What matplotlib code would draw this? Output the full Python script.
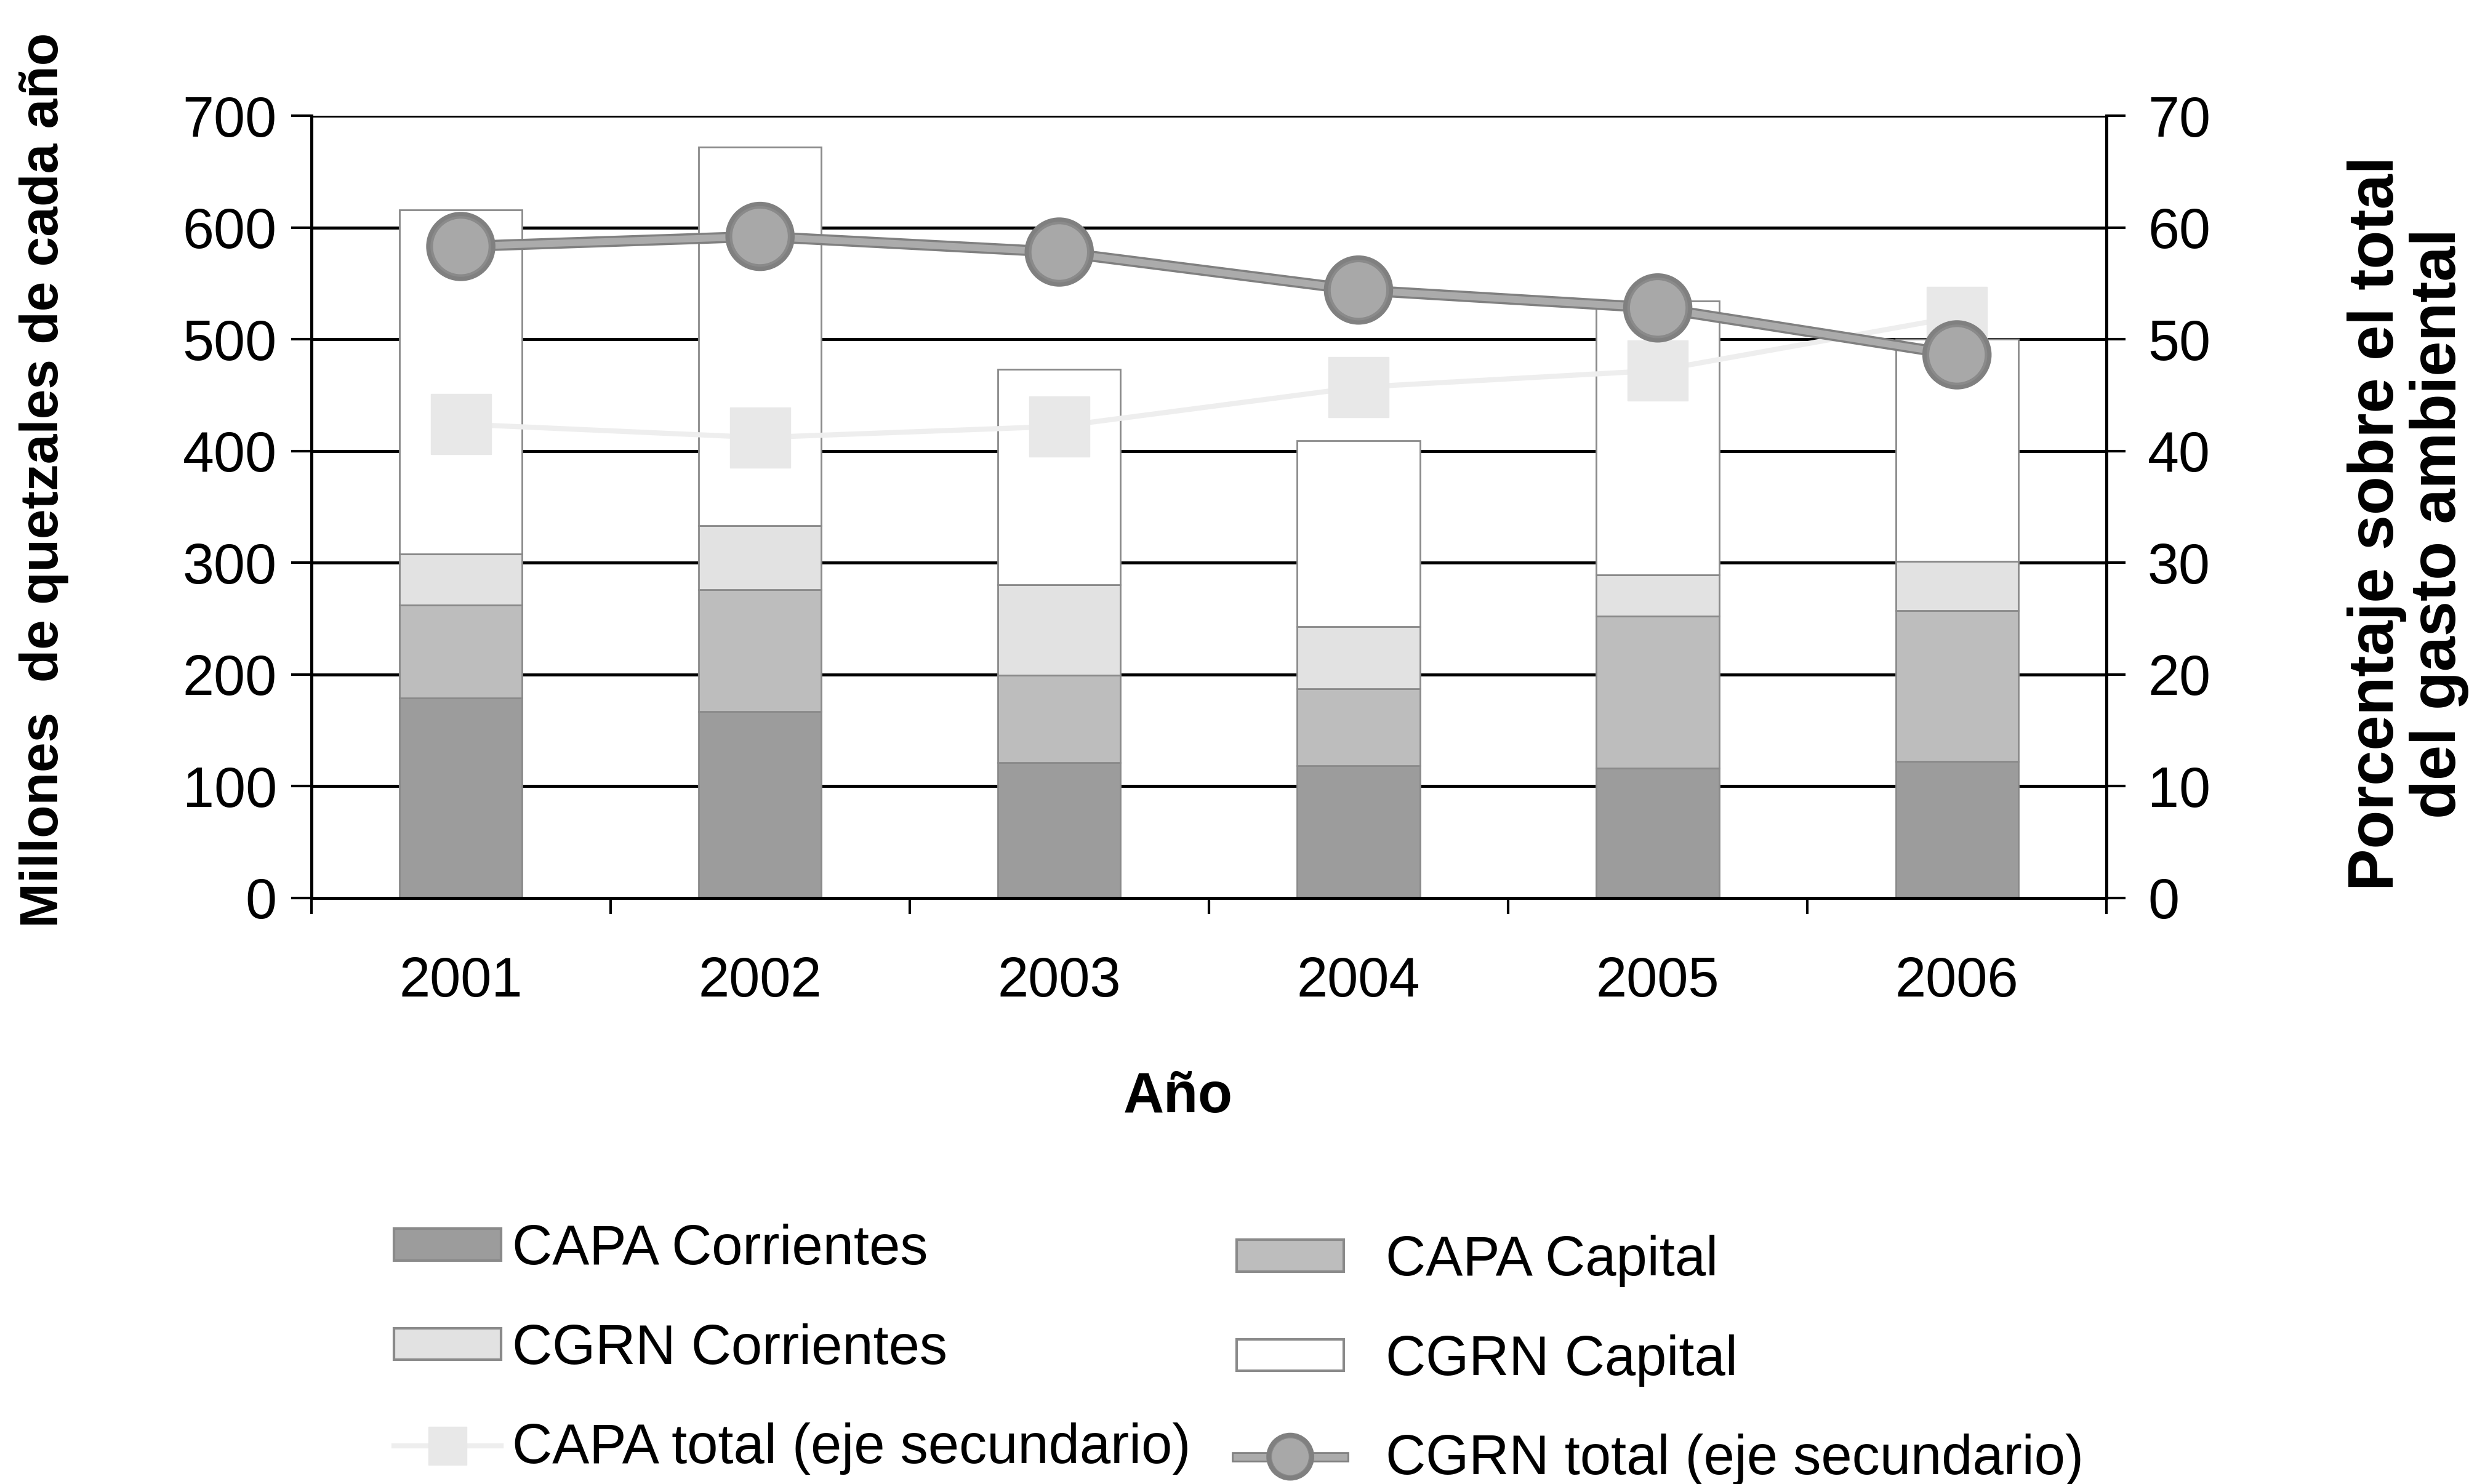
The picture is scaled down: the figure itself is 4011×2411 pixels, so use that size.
import matplotlib
matplotlib.use("Agg")
from matplotlib import pyplot as plt
from matplotlib.patches import Patch
from matplotlib.lines import Line2D
import matplotlib.patheffects as pe
import numpy as np

plt.rcParams['font.family'] = ['Liberation Sans', 'DejaVu Sans']

# datos (millones de quetzales)
anios = ["2001", "2002", "2003", "2004", "2005", "2006"]
capa_corrientes = [179, 167, 121, 118, 116, 122]
capa_capital = [83, 109, 78, 69, 136, 135]
cgrn_corrientes = [46, 57, 81, 56, 37, 44]
cgrn_capital = [308, 339, 193, 166, 245, 199]
# porcentajes (eje secundario)
capa_total = [42.4, 41.2, 42.2, 45.7, 47.2, 52.0]
cgrn_total = [58.3, 59.2, 57.8, 54.4, 52.8, 48.6]

fig = plt.figure(figsize=(40.12, 24.11), dpi=100)
ax = fig.add_axes([0.126, 0.395, 0.727, 0.527])
ax2 = ax.twinx()

x = np.arange(len(anios))
w = 0.41
edge = '#8a8a8a'
c1, c2, c3, c4 = '#9c9c9c', '#bdbdbd', '#e2e2e2', '#ffffff'

b1 = np.array(capa_corrientes)
b2 = b1 + np.array(capa_capital)
b3 = b2 + np.array(cgrn_corrientes)
ax.bar(x, capa_corrientes, w, color=c1, edgecolor=edge, lw=2)
ax.bar(x, capa_capital, w, bottom=b1, color=c2, edgecolor=edge, lw=2)
ax.bar(x, cgrn_corrientes, w, bottom=b2, color=c3, edgecolor=edge, lw=2)
ax.bar(x, cgrn_capital, w, bottom=b3, color=c4, edgecolor=edge, lw=2)

ax.set_xlim(-0.5, len(anios) - 0.5)
ax.set_ylim(0, 700)
ax.set_yticks(range(0, 701, 100))
ax.set_axisbelow(True)
ax.yaxis.grid(True, color='black', lw=3.5)
ax.set_xticks(np.arange(-0.5, len(anios), 1.0))
ax.set_xticklabels([])
ax.set_xticks(x, minor=True)
ax.set_xticklabels(anios, minor=True)
ax.tick_params(axis='x', which='major', direction='out', length=19, width=3)
ax.tick_params(axis='x', which='minor', length=0, pad=68, labelsize=65)
ax.tick_params(axis='y', direction='out', length=24, width=3, pad=16, labelsize=66)
for s in ax.spines.values():
    s.set_linewidth(3.5)
ax.spines['top'].set_visible(False)

# eje secundario
linea = [pe.Stroke(linewidth=13, foreground='#808080'), pe.Normal()]
ax2.plot(x, capa_total, color='#eeeeee', lw=6, marker='s', ms=70,
         markerfacecolor='#e8e8e8', markeredgecolor='#e8e8e8', zorder=3)
ax2.plot(x, cgrn_total, color='#ababab', lw=8, marker='o', ms=68,
         markerfacecolor='#a8a8a8', markeredgecolor='#8a8a8a', markeredgewidth=3,
         zorder=4, path_effects=linea)
ax2.set_ylim(0, 70)
ax2.set_yticks(range(0, 71, 10))
ax2.tick_params(axis='y', direction='out', length=22, width=3, pad=26, labelsize=66)
for s in ax2.spines.values():
    s.set_linewidth(3.5)
ax2.spines['top'].set_visible(False)

fig.text(72 / 4012, 1 - 780 / 2411, "Millones  de quetzales de cada año", rotation=90,
         ha='center', va='center', fontsize=63, fontweight='bold')
fig.text(3912 / 4012, 1 - 850 / 2411, "Porcentaje sobre el total\ndel gasto ambiental", rotation=90,
         ha='center', va='center', fontsize=74, fontweight='bold', linespacing=1.05)
fig.text(1914 / 4012, 1 - 1783 / 2411, "Año", ha='center', va='center',
         fontsize=66, fontweight='bold')

h_izq = [Patch(facecolor=c1, edgecolor=edge, lw=3),
         Patch(facecolor=c3, edgecolor=edge, lw=3),
         Line2D([], [], color='#eeeeee', lw=6, marker='s', ms=44,
                markerfacecolor='#e8e8e8', markeredgecolor='#e8e8e8')]
l_izq = ["CAPA Corrientes", "CGRN Corrientes", "CAPA total (eje secundario)"]
h_der = [Patch(facecolor=c2, edgecolor=edge, lw=3),
         Patch(facecolor=c4, edgecolor=edge, lw=3),
         Line2D([], [], color='#ababab', lw=8, marker='o', ms=44,
                markerfacecolor='#a8a8a8', markeredgecolor='#8a8a8a',
                path_effects=[pe.Stroke(linewidth=12, foreground='#808080'), pe.Normal()])]
l_der = ["CAPA Capital", "CGRN Capital", "CGRN total (eje secundario)"]

fig.legend(h_izq, l_izq, loc='upper left', bbox_to_anchor=(640 / 4012, 1 - 1988 / 2411),
           frameon=False, fontsize=65, handlelength=1.93, handleheight=0.5,
           handletextpad=0.2, labelspacing=0.85, borderpad=0, borderaxespad=0)
fig.legend(h_der, l_der, loc='upper left', bbox_to_anchor=(2009 / 4012, 1 - 2006 / 2411),
           frameon=False, fontsize=65, handlelength=1.93, handleheight=0.5,
           handletextpad=0.75, labelspacing=0.85, borderpad=0, borderaxespad=0)

fig.savefig("out.png", dpi=100, facecolor='white')
